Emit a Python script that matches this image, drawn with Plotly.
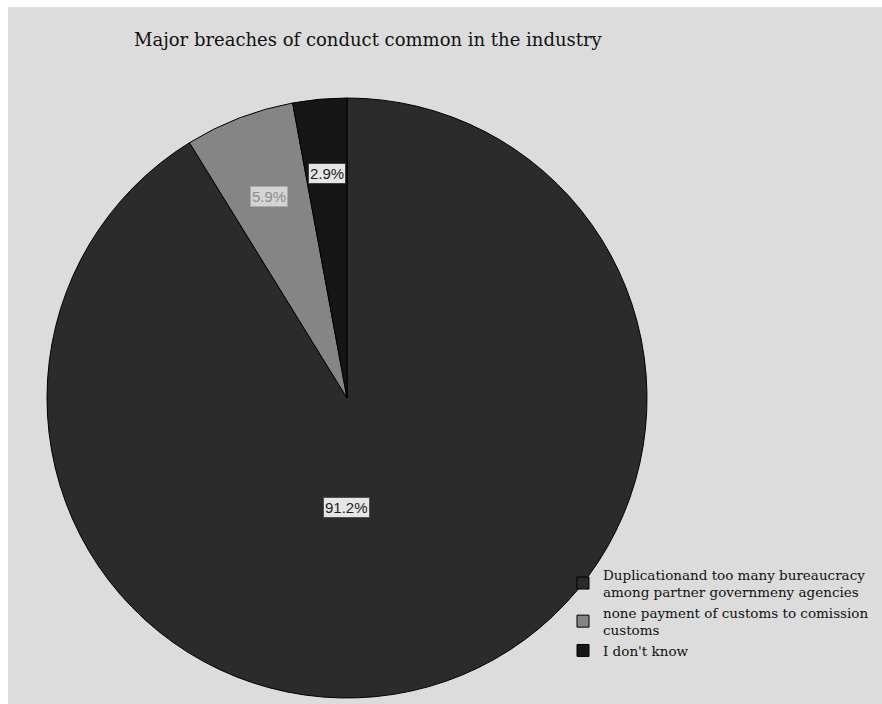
import math
import plotly.graph_objects as go

title = "Major breaches of conduct common in the industry"
categories = [
    "Duplicationand too many bureaucracy<br>among partner governmeny agencies",
    "none payment of customs to comission<br>customs",
    "I don't know",
]
values = [91.2, 5.9, 2.9]
colors = ["#2b2b2b", "#858585", "#161616"]

W, H = 882, 704
cx_px, cy_px, R = 347, 398, 300


def px(x):
    return x / W


def py(y):
    return 1 - y / H


fig = go.Figure()
fig.add_trace(go.Pie(
    labels=categories,
    values=values,
    sort=False,
    direction="clockwise",
    rotation=0,
    textinfo="none",
    marker=dict(colors=colors, line=dict(color="#000000", width=1)),
    domain=dict(x=[px(cx_px - R), px(cx_px + R)],
                y=[py(cy_px + R), py(cy_px - R)]),
    hoverinfo="label+percent",
))

# label boxes placed along each slice's mid-angle
label_r = [0.365, 0.72, 0.75]
label_ang_shift = [16, 0, 0]
label_style = [
    dict(font_color="#1e1e1e", bg="#e6e6e6", border="#505050"),
    dict(font_color="#8c8c8c", bg="#d4d4d4", border="#a8a8a8"),
    dict(font_color="#1e1e1e", bg="#e6e6e6", border="#404040"),
]
total = sum(values)
cum = 0.0
for v, rf, sh, st in zip(values, label_r, label_ang_shift, label_style):
    mid = (cum + v / 2) / total * 360 + sh
    cum += v
    a = math.radians(mid)
    x_px = cx_px + rf * R * math.sin(a)
    y_px = cy_px - rf * R * math.cos(a)
    fig.add_annotation(
        x=px(x_px), y=py(y_px), xref="paper", yref="paper",
        xanchor="center", yanchor="middle",
        text=f"{v:.1f}%", showarrow=False,
        font=dict(family="Liberation Sans, Arial", size=15, color=st["font_color"]),
        bgcolor=st["bg"], bordercolor=st["border"], borderwidth=1, borderpad=1,
    )

fig.add_annotation(
    x=px(368), y=py(40), xref="paper", yref="paper",
    xanchor="center", yanchor="middle",
    text=title, showarrow=False,
    font=dict(family="DejaVu Serif", size=18, color="#111111"),
)

fig.update_layout(
    width=W, height=H,
    margin=dict(l=0, r=0, t=0, b=0, autoexpand=False),
    paper_bgcolor="#dcdcdc",
    shapes=[
        dict(type="rect", xref="paper", yref="paper",
             x0=0, x1=px(8), y0=0, y1=1,
             fillcolor="#ffffff", line=dict(width=0), layer="below"),
        dict(type="rect", xref="paper", yref="paper",
             x0=0, x1=1, y0=py(7), y1=1,
             fillcolor="#ffffff", line=dict(width=0), layer="below"),
    ],
    legend=dict(
        x=px(563), y=py(559), xanchor="left", yanchor="top",
        bgcolor="rgba(0,0,0,0)",
        font=dict(family="DejaVu Serif", size=13.5, color="#111111"),
        itemwidth=30, tracegroupgap=0,
    ),
    showlegend=True,
)

fig.write_html("out.html")
